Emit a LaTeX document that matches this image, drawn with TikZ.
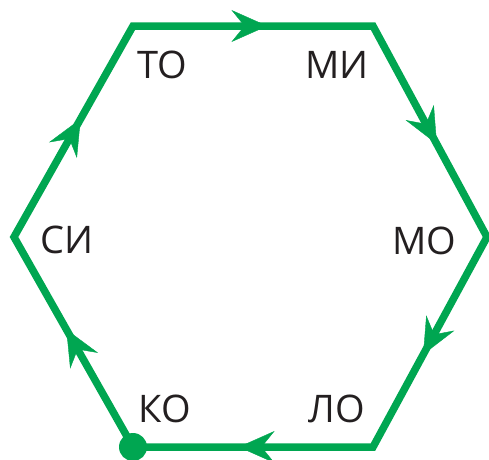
\documentclass[tikz,border=0pt]{standalone}
\usepackage{fontspec}
\setmainfont{Open Sans}
\usepackage{tikz}
\usetikzlibrary{positioning,arrows.meta,decorations.markings}

\definecolor{hexgreen}{RGB}{0,166,81}
\definecolor{inkgray}{RGB}{35,31,32}

\begin{document}
\begin{tikzpicture}[x=1pt, y=-1pt,
    every node/.style={font=\fontsize{38}{40}\selectfont, text=inkgray, inner sep=0pt},
    edge/.style={draw=hexgreen, line width=7.5pt, line join=miter},
    midarrow/.style={decoration={markings,
        mark=at position 0.56 with {\arrow[hexgreen]{Stealth[length=36pt, width=32pt, inset=13pt]}}},
        postaction={decorate}}]
  \useasboundingbox (0,0) rectangle (489,459);

  % corners of the ring
  \coordinate (tl) at (133,26);
  \coordinate (tr) at (373,26);
  \coordinate (r)  at (487,237);
  \coordinate (br) at (373,447);
  \coordinate (bl) at (133,447);
  \coordinate (l)  at (14,237);

  \draw[edge] (tl) -- (tr) -- (r) -- (br) -- (bl) -- (l) -- cycle;
  \foreach \a/\b in {tl/tr, tr/r, r/br, br/bl, bl/l, l/tl}
    \path[midarrow] (\a) -- (\b);
  \fill[hexgreen] (bl) circle (14pt);

  % syllables
  \node (to) at (162,65)  {ТО};
  \node (mi) at (337,65)  {МИ};
  \node (mo) at (424,241) {МО};
  \node (lo) at (337,409) {ЛО};
  \node (ko) at (165,409) {КО};
  \node (si) at (67,240)  {СИ};
\end{tikzpicture}
\end{document}
